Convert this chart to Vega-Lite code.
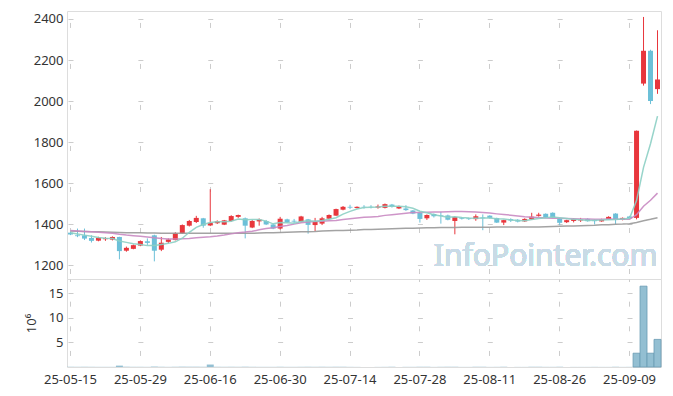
{
  "$schema": "https://vega.github.io/schema/vega-lite/v6.json",
  "padding": {"left": 24, "top": 10, "right": 5, "bottom": 5},
  "background": "white",
  "spacing": 0,
  "bounds": "flush",
  "config": {
    "view": {"stroke": "#dddddd", "strokeWidth": 1},
    "font": "Noto Sans",
    "axis": {"labelFont": "Noto Sans", "labelFontSize": 13, "labelColor": "#333333", "ticks": false, "domain": false, "grid": false, "gridColor": "#cccccc", "gridWidth": 1}
  },
  "datasets": {
    "px": [
      {"d":"25-05-15","o":1358,"h":1362,"l":1346,"c":1349,"v":0.05,"m5":1358,"m20":1368,"m60":1366},
      {"d":"25-05-16","o":1345,"h":1378,"l":1336,"c":1341,"v":0.04,"m5":1352,"m20":1366,"m60":1365},
      {"d":"25-05-19","o":1345,"h":1378,"l":1322,"c":1329,"v":0.05,"m5":1346,"m20":1364,"m60":1364},
      {"d":"25-05-20","o":1332,"h":1345,"l":1310,"c":1318,"v":0.04,"m5":1340,"m20":1362,"m60":1363},
      {"d":"25-05-21","o":1319,"h":1338,"l":1316,"c":1333,"v":0.03,"m5":1334,"m20":1360,"m60":1362},
      {"d":"25-05-22","o":1326,"h":1336,"l":1318,"c":1331,"v":0.03,"m5":1330.4,"m20":1358,"m60":1361},
      {"d":"25-05-23","o":1324,"h":1340,"l":1320,"c":1337,"v":0.03,"m5":1329.6,"m20":1355,"m60":1360},
      {"d":"25-05-26","o":1337,"h":1338,"l":1228,"c":1268,"v":0.28,"m5":1317.4,"m20":1350,"m60":1359},
      {"d":"25-05-27","o":1270,"h":1290,"l":1265,"c":1284,"v":0.06,"m5":1310.6,"m20":1346,"m60":1358},
      {"d":"25-05-28","o":1279,"h":1300,"l":1277,"c":1297,"v":0.04,"m5":1303.4,"m20":1343,"m60":1357},
      {"d":"25-05-29","o":1295,"h":1320,"l":1292,"c":1317,"v":0.04,"m5":1300.6,"m20":1340,"m60":1357},
      {"d":"25-05-30","o":1316,"h":1330,"l":1298,"c":1308,"v":0.03,"m5":1294.8,"m20":1337,"m60":1356},
      {"d":"25-06-02","o":1345,"h":1348,"l":1218,"c":1270,"v":0.09,"m5":1295.2,"m20":1333,"m60":1356},
      {"d":"25-06-04","o":1275,"h":1337,"l":1268,"c":1309,"v":0.05,"m5":1300.2,"m20":1330,"m60":1355},
      {"d":"25-06-05","o":1313,"h":1330,"l":1308,"c":1325,"v":0.03,"m5":1305.8,"m20":1327,"m60":1355},
      {"d":"25-06-09","o":1322,"h":1360,"l":1320,"c":1355,"v":0.05,"m5":1313.4,"m20":1327,"m60":1355},
      {"d":"25-06-10","o":1355,"h":1398,"l":1352,"c":1395,"v":0.07,"m5":1330.8,"m20":1328,"m60":1355},
      {"d":"25-06-11","o":1392,"h":1420,"l":1388,"c":1415,"v":0.06,"m5":1359.8,"m20":1330,"m60":1355},
      {"d":"25-06-12","o":1410,"h":1440,"l":1405,"c":1430,"v":0.06,"m5":1384,"m20":1333,"m60":1355},
      {"d":"25-06-13","o":1428,"h":1430,"l":1382,"c":1392,"v":0.05,"m5":1397.4,"m20":1335.2,"m60":1355},
      {"d":"25-06-16","o":1393,"h":1570,"l":1390,"c":1406,"v":0.5,"m5":1407.6,"m20":1338,"m60":1355},
      {"d":"25-06-17","o":1404,"h":1418,"l":1400,"c":1413,"v":0.05,"m5":1411.2,"m20":1341.6,"m60":1355},
      {"d":"25-06-18","o":1397,"h":1420,"l":1395,"c":1418,"v":0.04,"m5":1411.8,"m20":1346.1,"m60":1355},
      {"d":"25-06-19","o":1415,"h":1443,"l":1412,"c":1439,"v":0.05,"m5":1413.6,"m20":1352.1,"m60":1355},
      {"d":"25-06-20","o":1435,"h":1446,"l":1430,"c":1444,"v":0.04,"m5":1424,"m20":1357.7,"m60":1355},
      {"d":"25-06-23","o":1428,"h":1432,"l":1330,"c":1392,"v":0.06,"m5":1421.2,"m20":1360.7,"m60":1355},
      {"d":"25-06-24","o":1383,"h":1420,"l":1380,"c":1415,"v":0.04,"m5":1421.6,"m20":1364.6,"m60":1355},
      {"d":"25-06-25","o":1413,"h":1427,"l":1392,"c":1422,"v":0.03,"m5":1422.4,"m20":1372.3,"m60":1356},
      {"d":"25-06-26","o":1415,"h":1420,"l":1395,"c":1398,"v":0.03,"m5":1414.2,"m20":1378,"m60":1357},
      {"d":"25-06-27","o":1398,"h":1400,"l":1375,"c":1378,"v":0.03,"m5":1401,"m20":1382.1,"m60":1358},
      {"d":"25-06-30","o":1378,"h":1435,"l":1373,"c":1426,"v":0.05,"m5":1407.8,"m20":1387.5,"m60":1359},
      {"d":"25-07-01","o":1423,"h":1426,"l":1405,"c":1408,"v":0.03,"m5":1406.4,"m20":1392.5,"m60":1360},
      {"d":"25-07-02","o":1416,"h":1425,"l":1405,"c":1412,"v":0.03,"m5":1404.4,"m20":1399.6,"m60":1361},
      {"d":"25-07-03","o":1411,"h":1440,"l":1408,"c":1437,"v":0.04,"m5":1412.2,"m20":1406,"m60":1362},
      {"d":"25-07-04","o":1423,"h":1425,"l":1353,"c":1396,"v":0.05,"m5":1415.8,"m20":1409.6,"m60":1363},
      {"d":"25-07-07","o":1395,"h":1430,"l":1366,"c":1413,"v":0.04,"m5":1413.2,"m20":1412.5,"m60":1364},
      {"d":"25-07-08","o":1402,"h":1435,"l":1395,"c":1428,"v":0.04,"m5":1417.2,"m20":1414.1,"m60":1366},
      {"d":"25-07-09","o":1426,"h":1447,"l":1424,"c":1444,"v":0.04,"m5":1423.6,"m20":1415.6,"m60":1367},
      {"d":"25-07-10","o":1441,"h":1475,"l":1440,"c":1473,"v":0.06,"m5":1430.8,"m20":1417.7,"m60":1368},
      {"d":"25-07-11","o":1470,"h":1488,"l":1467,"c":1484,"v":0.05,"m5":1448.4,"m20":1422.3,"m60":1369},
      {"d":"25-07-14","o":1484,"h":1494,"l":1473,"c":1480,"v":0.03,"m5":1461.8,"m20":1426,"m60":1370},
      {"d":"25-07-15","o":1478,"h":1486,"l":1476,"c":1484,"v":0.02,"m5":1473,"m20":1429.6,"m60":1371},
      {"d":"25-07-16","o":1484,"h":1492,"l":1475,"c":1482,"v":0.02,"m5":1480.6,"m20":1432.8,"m60":1373},
      {"d":"25-07-17","o":1484,"h":1492,"l":1476,"c":1482,"v":0.02,"m5":1482.4,"m20":1434.9,"m60":1374},
      {"d":"25-07-18","o":1480,"h":1495,"l":1475,"c":1486,"v":0.02,"m5":1482.8,"m20":1437,"m60":1375},
      {"d":"25-07-21","o":1479,"h":1500,"l":1476,"c":1497,"v":0.03,"m5":1486.2,"m20":1442.3,"m60":1376},
      {"d":"25-07-22","o":1495,"h":1498,"l":1480,"c":1484,"v":0.03,"m5":1486.2,"m20":1445.7,"m60":1377},
      {"d":"25-07-23","o":1476,"h":1490,"l":1473,"c":1486,"v":0.02,"m5":1487,"m20":1448.9,"m60":1378},
      {"d":"25-07-24","o":1476,"h":1492,"l":1464,"c":1468,"v":0.03,"m5":1484.2,"m20":1452.4,"m60":1379},
      {"d":"25-07-25","o":1466,"h":1468,"l":1448,"c":1451,"v":0.03,"m5":1477.2,"m20":1456.1,"m60":1380},
      {"d":"25-07-28","o":1455,"h":1457,"l":1407,"c":1425,"v":0.05,"m5":1462.8,"m20":1456,"m60":1381},
      {"d":"25-07-29","o":1428,"h":1447,"l":1420,"c":1444,"v":0.03,"m5":1454.8,"m20":1457.8,"m60":1382},
      {"d":"25-07-30","o":1449,"h":1452,"l":1432,"c":1438,"v":0.02,"m5":1445.2,"m20":1459.1,"m60":1382},
      {"d":"25-07-31","o":1443,"h":1460,"l":1402,"c":1440,"v":0.04,"m5":1439.6,"m20":1459.3,"m60":1383},
      {"d":"25-08-01","o":1442,"h":1446,"l":1418,"c":1421,"v":0.03,"m5":1433.6,"m20":1460.5,"m60":1383},
      {"d":"25-08-04","o":1415,"h":1437,"l":1350,"c":1434,"v":0.05,"m5":1435.4,"m20":1461.6,"m60":1383},
      {"d":"25-08-05","o":1430,"h":1434,"l":1422,"c":1426,"v":0.02,"m5":1431.8,"m20":1461.5,"m60":1384},
      {"d":"25-08-06","o":1428,"h":1431,"l":1420,"c":1424,"v":0.02,"m5":1429,"m20":1460.5,"m60":1384},
      {"d":"25-08-07","o":1424,"h":1447,"l":1416,"c":1438,"v":0.03,"m5":1428.6,"m20":1458.7,"m60":1384},
      {"d":"25-08-08","o":1432,"h":1447,"l":1370,"c":1428,"v":0.04,"m5":1430,"m20":1455.9,"m60":1384},
      {"d":"25-08-11","o":1441,"h":1443,"l":1426,"c":1430,"v":0.02,"m5":1429.2,"m20":1453.4,"m60":1384},
      {"d":"25-08-12","o":1429,"h":1431,"l":1405,"c":1407,"v":0.03,"m5":1425.4,"m20":1449.6,"m60":1385},
      {"d":"25-08-13","o":1407,"h":1421,"l":1395,"c":1419,"v":0.03,"m5":1424.4,"m20":1446.4,"m60":1385},
      {"d":"25-08-14","o":1424,"h":1428,"l":1410,"c":1417,"v":0.02,"m5":1420.2,"m20":1443.2,"m60":1385},
      {"d":"25-08-18","o":1421,"h":1424,"l":1408,"c":1412,"v":0.02,"m5":1417,"m20":1439.5,"m60":1385},
      {"d":"25-08-19","o":1413,"h":1428,"l":1410,"c":1425,"v":0.02,"m5":1416,"m20":1435.9,"m60":1386},
      {"d":"25-08-20","o":1423,"h":1455,"l":1420,"c":1436,"v":0.04,"m5":1421.8,"m20":1433.5,"m60":1386},
      {"d":"25-08-21","o":1440,"h":1455,"l":1436,"c":1446,"v":0.03,"m5":1427.2,"m20":1431.5,"m60":1386},
      {"d":"25-08-22","o":1450,"h":1452,"l":1430,"c":1432,"v":0.03,"m5":1430.2,"m20":1429.7,"m60":1387},
      {"d":"25-08-25","o":1455,"h":1457,"l":1430,"c":1432,"v":0.03,"m5":1434.2,"m20":1428.7,"m60":1388},
      {"d":"25-08-26","o":1426,"h":1428,"l":1394,"c":1406,"v":0.03,"m5":1430.4,"m20":1427.8,"m60":1389},
      {"d":"25-08-27","o":1409,"h":1421,"l":1405,"c":1419,"v":0.02,"m5":1427,"m20":1426.5,"m60":1390},
      {"d":"25-08-28","o":1415,"h":1428,"l":1408,"c":1425,"v":0.02,"m5":1422.8,"m20":1425.9,"m60":1391},
      {"d":"25-08-29","o":1417,"h":1430,"l":1410,"c":1422,"v":0.02,"m5":1420.8,"m20":1425,"m60":1392},
      {"d":"25-09-01","o":1425,"h":1428,"l":1412,"c":1414,"v":0.02,"m5":1417.2,"m20":1424.6,"m60":1393},
      {"d":"25-09-02","o":1419,"h":1422,"l":1398,"c":1414,"v":0.03,"m5":1418.8,"m20":1423.6,"m60":1394},
      {"d":"25-09-03","o":1413,"h":1426,"l":1411,"c":1422,"v":0.02,"m5":1419.4,"m20":1423.4,"m60":1396},
      {"d":"25-09-04","o":1423,"h":1438,"l":1420,"c":1435,"v":0.02,"m5":1421.4,"m20":1424,"m60":1397},
      {"d":"25-09-05","o":1451,"h":1453,"l":1398,"c":1424,"v":0.05,"m5":1421.8,"m20":1423.3,"m60":1399},
      {"d":"25-09-08","o":1420,"h":1432,"l":1418,"c":1430,"v":0.02,"m5":1425,"m20":1423.4,"m60":1400},
      {"d":"25-09-09","o":1437,"h":1440,"l":1425,"c":1428,"v":0.03,"m5":1427.8,"m20":1423.3,"m60":1402},
      {"d":"25-09-10","o":1430,"h":1856,"l":1423,"c":1855,"v":2.8,"m5":1514.4,"m20":1445.7,"m60":1408},
      {"d":"25-09-11","o":2085,"h":2410,"l":2075,"c":2245,"v":16.4,"m5":1676.4,"m20":1487,"m60":1416},
      {"d":"25-09-12","o":2245,"h":2250,"l":1985,"c":2000,"v":2.8,"m5":1791.6,"m20":1516.1,"m60":1423},
      {"d":"25-09-15","o":2058,"h":2345,"l":2035,"c":2105,"v":5.6,"m5":1926.6,"m20":1550.8,"m60":1431}
    ]
  },
  "vconcat": [
    {
      "width": 594,
      "height": 268,
      "data": {"name": "px"},
      "encoding": {
        "x": {"field": "d", "type": "ordinal", "scale": {"paddingInner": 0, "paddingOuter": 0},
              "axis": {"values": ["25-05-15","25-05-29","25-06-16","25-06-30","25-07-14","25-07-28","25-08-11","25-08-26","25-09-09"], "labels": false, "title": null, "grid": true, "gridDash": [5, 36.01], "gridDashOffset": 29.57}}
      },
      "layer": [
        {
          "mark": {"type": "text", "fontSize": 30, "color": "#c9dbe6", "align": "center", "baseline": "middle", "font": "Noto Sans"},
          "encoding": {
            "x": {"datum": "25-08-22", "type": "ordinal"},
            "y": {"datum": 1240, "type": "quantitative"},
            "text": {"value": "InfoPointer.com"}
          }
        },
        {
          "mark": {"type": "rule", "strokeWidth": 1},
          "encoding": {
            "y": {"field": "l", "type": "quantitative", "scale": {"domain": [1132, 2439], "nice": false, "zero": false},
                  "axis": {"values": [1200, 1400, 1600, 1800, 2000, 2200, 2400], "format": "d", "title": null, "labelPadding": 4, "grid": true, "gridDash": [5, 64.88], "gridDashOffset": 68.88}},
            "y2": {"field": "h"},
            "color": {"condition": {"test": "datum.c >= datum.o", "value": "#e8363c"}, "value": "#6cc0d8"}
          }
        },
        {
          "mark": {"type": "bar", "width": 5},
          "encoding": {
            "y": {"field": "o", "type": "quantitative"},
            "y2": {"field": "c"},
            "color": {"condition": {"test": "datum.c >= datum.o", "value": "#e8363c"}, "value": "#6cc0d8"}
          }
        },
        {
          "mark": {"type": "line", "color": "#999999", "strokeWidth": 1.5, "opacity": 0.9},
          "encoding": {"y": {"field": "m60", "type": "quantitative"}}
        },
        {
          "mark": {"type": "line", "color": "#c98ac2", "strokeWidth": 1.5, "opacity": 0.9},
          "encoding": {"y": {"field": "m20", "type": "quantitative"}}
        },
        {
          "mark": {"type": "line", "color": "#8ccfc4", "strokeWidth": 1.5, "opacity": 0.9},
          "encoding": {"y": {"field": "m5", "type": "quantitative"}}
        }
      ]
    },
    {
      "width": 594,
      "height": 88,
      "data": {"name": "px"},
      "mark": {"type": "bar", "color": "#93bfd2", "strokeWidth": 0.8},
      "encoding": {
        "x": {"field": "d", "type": "ordinal", "scale": {"paddingInner": 0, "paddingOuter": 0},
              "axis": {"values": ["25-05-15","25-05-29","25-06-16","25-06-30","25-07-14","25-07-28","25-08-11","25-08-26","25-09-09"], "title": null, "labelAngle": 0, "labelPadding": 6, "grid": true, "gridDash": [5, 19.65], "gridDashOffset": 2.5}},
        "y": {"field": "v", "type": "quantitative", "scale": {"domain": [0, 17.85], "nice": false},
              "axis": {"values": [5, 10, 15], "title": "10⁶", "titleFontWeight": "normal", "titleFontSize": 13, "titleColor": "#333333", "labelPadding": 4, "titlePadding": 10, "grid": true, "gridDash": [5, 64.88], "gridDashOffset": 68.88}},
        "stroke": {"condition": {"test": "datum.v > 1", "value": "#6a9cb4"}, "value": null}
      }
    }
  ]
}
